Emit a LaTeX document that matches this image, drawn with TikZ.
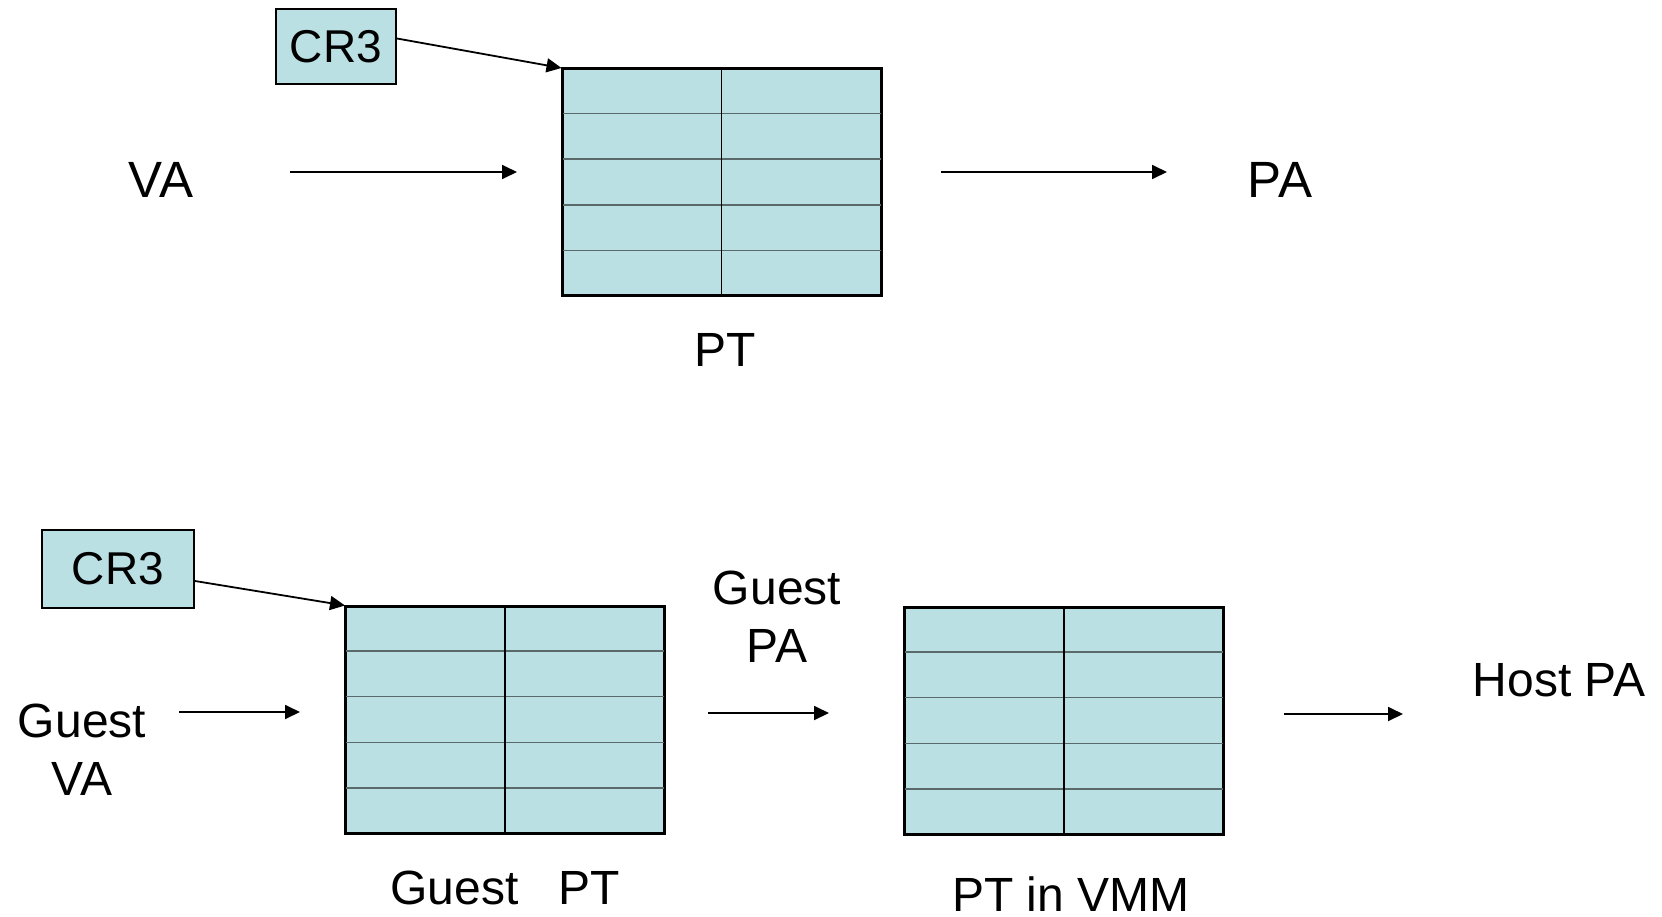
\documentclass[tikz,border=0pt]{standalone}
\usepackage{fontspec}
\setmainfont{Liberation Sans}
\usetikzlibrary{arrows.meta,calc}
\definecolor{cellfill}{HTML}{BAE0E3}
\definecolor{rowline}{RGB}{90,105,105}
\tikzset{
  lbl/.style={font=\fontsize{48}{58}\selectfont, inner sep=0pt, align=center},
  biglbl/.style={lbl, font=\fontsize{51}{60}\selectfont},
  regbox/.style={draw=black, line width=2pt, fill=cellfill, inner sep=0pt, font=\fontsize{46}{56}\selectfont},
  tbl/.style={draw=black, line width=2pt, fill=cellfill, minimum width=318pt, minimum height=226pt, inner sep=0pt},
  arr/.style={-{Triangle[length=15pt,width=14pt]}, line width=1.8pt},
  rowln/.style={draw=rowline, line width=1.5pt},
  colln/.style={draw=black, line width=1.5pt},
}
\newcommand\tablelines[1]{%
  \foreach \i in {1,...,4}
    \draw[rowln] ($(#1.north west)!\i/5!(#1.south west)$) -- ($(#1.north east)!\i/5!(#1.south east)$);
  \draw[colln] (#1.north) -- (#1.south);
  \draw[draw=black, line width=2pt] (#1.north west) rectangle (#1.south east);
}
\begin{document}
\begin{tikzpicture}[x=1pt,y=-1pt]
\useasboundingbox (0,0) rectangle (1662,916);

% ---- top: native paging ----
\node[regbox, minimum width=120pt, minimum height=75pt] (cr3a) at (336,46.5) {CR3};
\node[tbl] (pt) at (721.5,182) {};
\tablelines{pt}
\draw[arr] ([yshift=8pt]cr3a.east) -- (pt.north west);

\node[biglbl] (va) at (161,180) {VA};
\node[biglbl] (pa) at (1280,180) {PA};
\node[lbl] (ptl) at (725,350) {PT};
\coordinate (vaS) at (290,172);
\coordinate (vaE) at (517,172);
\coordinate (paS) at (941,172);
\coordinate (paE) at (1167,172);
\draw[arr] (vaS) -- (vaE);
\draw[arr] (paS) -- (paE);

% ---- bottom: virtualised paging ----
\node[regbox, minimum width=152pt, minimum height=78pt] (cr3b) at (118,569) {CR3};
\node[tbl] (gpt) at (505,719.5) {};
\tablelines{gpt}
\node[tbl] (vpt) at (1064,720.5) {};
\tablelines{vpt}
\draw[arr] ([yshift=-12pt]cr3b.east) -- (gpt.north west);

\node[lbl] (gva) at (82,750) {Guest\\VA};
\node[lbl] (gpa) at (777,617) {Guest\\PA};
\node[lbl] (hpa) at (1559,680) {Host PA};
\node[lbl] (gptl) at (505,888) {Guest\ \ \ PT};
\node[lbl] (vptl) at (1071,894) {PT in VMM};

\coordinate (gvaS) at (179,712);
\coordinate (gvaE) at (300,712);
\coordinate (gpaS) at (708,713);
\coordinate (gpaE) at (829,713);
\coordinate (hpaS) at (1284,714);
\coordinate (hpaE) at (1403,714);
\draw[arr] (gvaS) -- (gvaE);
\draw[arr] (gpaS) -- (gpaE);
\draw[arr] (hpaS) -- (hpaE);
\end{tikzpicture}
\end{document}
